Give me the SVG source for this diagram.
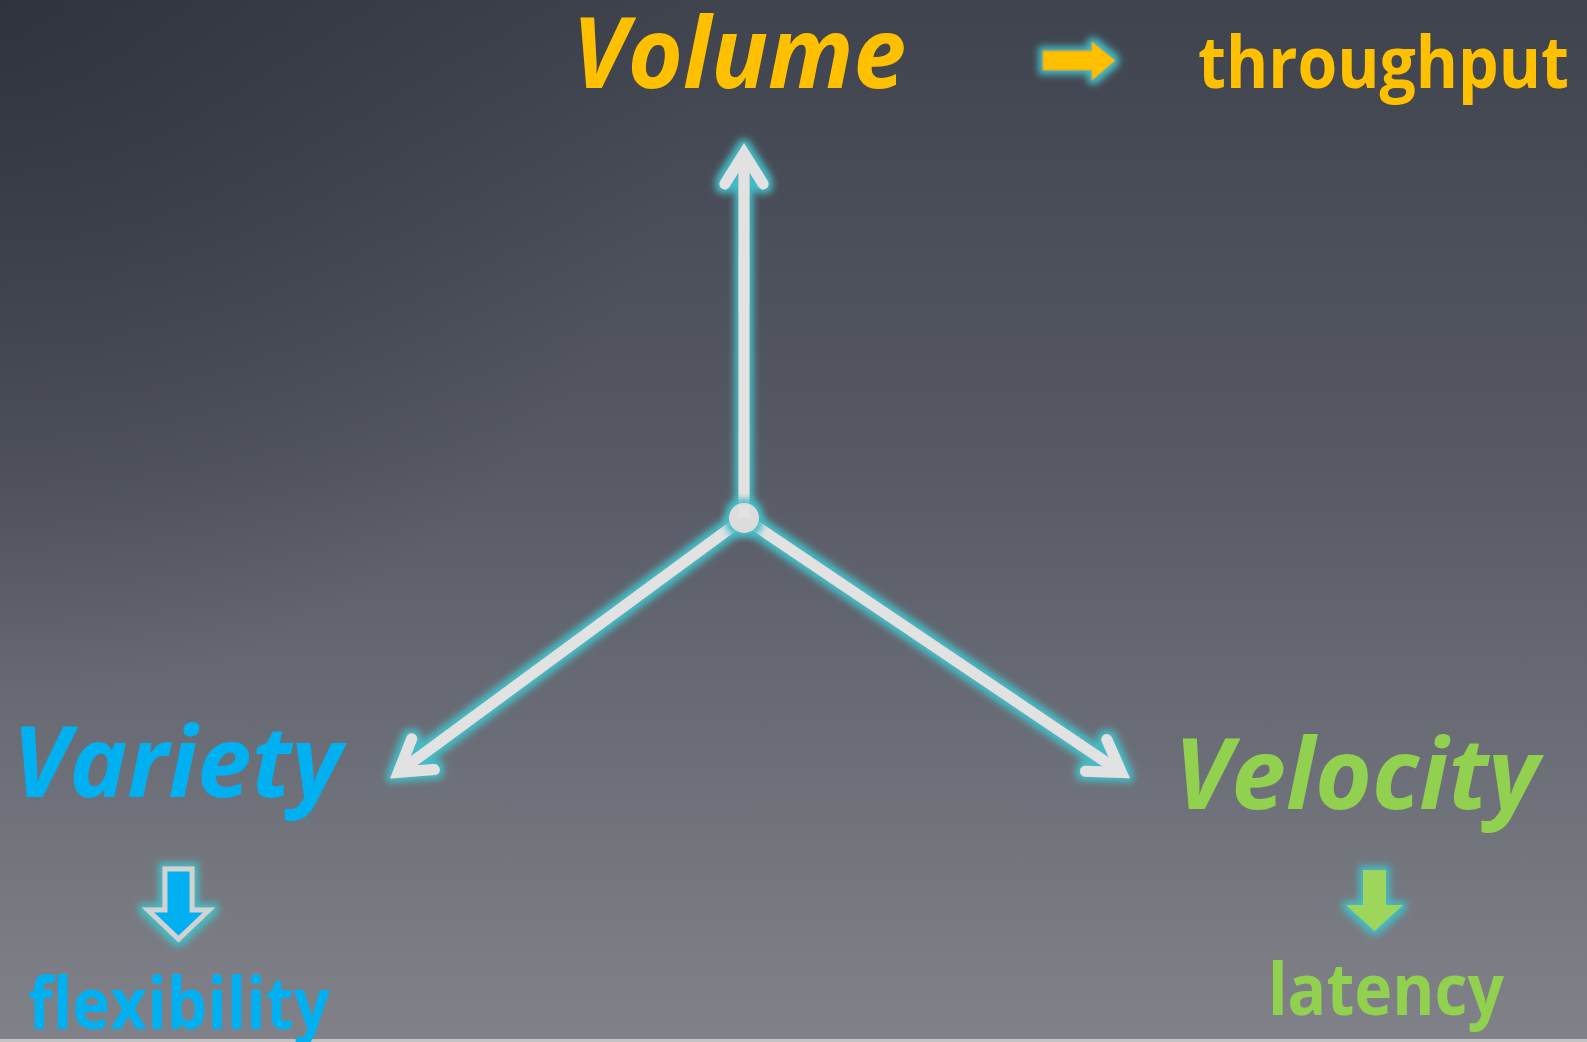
<svg xmlns="http://www.w3.org/2000/svg" width="1587" height="1042" viewBox="0 0 1587 1042">
  <defs>
    <linearGradient id="bg" x1="0" y1="0" x2="0" y2="1">
      <stop offset="0" stop-color="#3f434e"/>
      <stop offset="0.45" stop-color="#575a65"/>
      <stop offset="1" stop-color="#818289"/>
    </linearGradient>
    <radialGradient id="dark" cx="0" cy="0" r="700" gradientUnits="userSpaceOnUse">
      <stop offset="0" stop-color="#252933" stop-opacity="0.6"/>
      <stop offset="1" stop-color="#252933" stop-opacity="0"/>
    </radialGradient>
    <filter id="glow" x="-30%" y="-30%" width="160%" height="160%">
      <feMorphology in="SourceAlpha" operator="dilate" radius="4" result="d"/>
      <feGaussianBlur in="d" stdDeviation="3.5" result="b"/>
      <feFlood flood-color="#45bcc4" flood-opacity="1"/>
      <feComposite in2="b" operator="in" result="g"/>
      <feMerge>
        <feMergeNode in="g"/>
        <feMergeNode in="SourceGraphic"/>
      </feMerge>
    </filter>
  </defs>
  <style>
    .axis { stroke: #e2e2e2; stroke-width: 11; fill: none; stroke-linecap: round; stroke-linejoin: miter; stroke-miterlimit: 10; }
    .big { font-family: "Open Sans", "Noto Sans", sans-serif; font-weight: 700; font-style: italic; font-size: 98px; }
    .small { font-family: "Open Sans", "Noto Sans", sans-serif; font-weight: 700; font-size: 72px; }
    .yellow { fill: #ffc000; }
    .blue { fill: #00b0f0; }
    .green { fill: #92d050; }
  </style>

  <rect x="0" y="0" width="1587" height="1042" fill="url(#bg)"/>
  <rect x="0" y="0" width="1587" height="1042" fill="url(#dark)"/>
  <rect x="0" y="1039" width="1587" height="3" fill="#c4c4c4"/>

  <g id="connectors">
    <g filter="url(#glow)">
      <line class="axis" x1="744" y1="518" x2="744" y2="156"/>
      <polyline class="axis" points="724.9,183.9 744,153.4 763.1,183.9"/>
      <line class="axis" x1="744" y1="518" x2="400.5" y2="770.7"/>
      <polyline class="axis" points="411.7,738.8 398.4,772.3 434.3,769.6"/>
      <line class="axis" x1="744" y1="518" x2="1119.2" y2="771"/>
      <polyline class="axis" points="1106.8,739.6 1121.4,772.5 1085.4,771.2"/>
    </g>
    <path id="arrow-throughput" filter="url(#glow)" fill="#ffc000" stroke="#d9a400" stroke-width="1" d="M1043,51 H1092 V42 L1115,60.5 L1092,80 V70 H1043 Z"/>
    <path id="arrow-flexibility" filter="url(#glow)" fill="#00b0f0" stroke="#d2d2d2" stroke-width="5" d="M165,869 H192 V910 H209 L178.5,939 L148,910 H165 Z"/>
    <path id="arrow-latency" filter="url(#glow)" fill="#9dd65a" d="M1363,870 H1386 V905 H1403 L1374.5,931 L1346,905 H1363 Z"/>
  </g>

  <g id="hub">
    <circle cx="744" cy="518" r="15" fill="#dcdcdc" filter="url(#glow)"/>
    <line x1="744" y1="518" x2="744" y2="505" stroke="#e2e2e2" stroke-width="11"/>
  </g>

  <g id="volume"><text class="big yellow" x="572" y="88" textLength="334" lengthAdjust="spacingAndGlyphs">Volume</text></g>
  <g id="throughput"><text class="small yellow" x="1198" y="88" textLength="371" lengthAdjust="spacingAndGlyphs">throughput</text></g>
  <g id="variety"><text class="big blue" x="12" y="797" textLength="330" lengthAdjust="spacingAndGlyphs">Variety</text></g>
  <g id="flexibility"><text class="small blue" x="28" y="1029" textLength="302" lengthAdjust="spacingAndGlyphs">flexibility</text></g>
  <g id="velocity"><text class="big green" x="1174" y="809" textLength="365" lengthAdjust="spacingAndGlyphs">Velocity</text></g>
  <g id="latency"><text class="small green" x="1268" y="1015" textLength="236" lengthAdjust="spacingAndGlyphs">latency</text></g>
</svg>
